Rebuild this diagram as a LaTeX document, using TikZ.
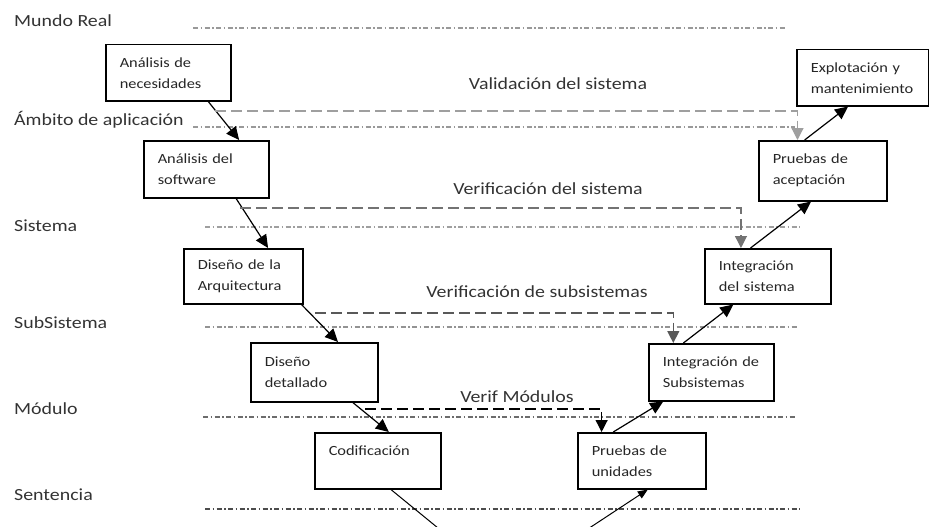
\documentclass[tikz,border=0pt]{standalone}
\usepackage{fontspec}
\setmainfont{Carlito}[FakeStretch=1.17]
\usetikzlibrary{arrows.meta,calc}

\newcommand\levelfont{\fontsize{17}{20}\selectfont}
\newcommand\stagefont{\fontsize{14}{21}\selectfont}

\tikzset{
  stage/.style={draw=black, line width=1.5pt, fill=white, align=left,
    anchor=north west, inner xsep=14pt, inner ysep=0pt,
    font=\stagefont, text=black!85},
  level/.style={font=\levelfont, text=black!80, anchor=base west, inner sep=0pt},
  phase/.style={font=\levelfont, text=black!80, anchor=base, inner sep=0pt},
  levelline/.style={line width=1.2pt,
    dash pattern=on 5pt off 2.5pt on 1.5pt off 2.5pt},
  flow/.style={line width=1.2pt, -{Triangle[length=13pt,width=12pt]}},
  check/.style={line width=1.2pt, dash pattern=on 11pt off 5pt,
    -{Triangle[length=12pt,width=12pt]}},
}

\begin{document}
\begin{tikzpicture}[x=1pt,y=-1pt]
\useasboundingbox (0,0) rectangle (929,527);
\clip (0,0) rectangle (929,527);

% abstraction levels
\node[level] (lmr) at (14,27)  {Mundo Real};
\node[level] (lam) at (14,125) {Ámbito de aplicación};
\node[level] (lsi) at (14,231) {Sistema};
\node[level] (lss) at (14,328) {SubSistema};
\node[level] (lmo) at (14,414) {Módulo};
\node[level] (lse) at (14,500) {Sentencia};

\draw[levelline, draw=gray!80] (193,28)  -- (785,28);
\draw[levelline, draw=gray!80] (193,127) -- (795,127);
\draw[levelline, draw=gray!75] (205,227) -- (800,227);
\draw[levelline, draw=gray!85] (205,327) -- (798,327);
\draw[levelline, draw=gray!85!black] (203,417) -- (795,417);
\draw[levelline, draw=black!70] (205,509) -- (800,509);

% development stages
\node[stage, text width=97pt,  minimum height=56pt] (nec)    at (105,44)  {Análisis de\\necesidades};
\node[stage, text width=97pt,  minimum height=57pt] (soft)   at (143,140) {Análisis del\\software};
\node[stage, text width=91pt,  minimum height=55pt] (arq)    at (183,248) {Diseño de la\\Arquitectura};
\node[stage, text width=99pt,  minimum height=59pt] (det)    at (250,342) {Diseño\\detallado};
\node[stage, text width=98pt,  minimum height=56pt] (cod)    at (314,432) {Codificación\\\mbox{}};
\node[stage, text width=100pt, minimum height=56pt] (pru)    at (577,432) {Pruebas de\\unidades};
\node[stage, text width=97pt,  minimum height=57pt] (intsub) at (648,343) {Integración de\\Subsistemas};
\node[stage, text width=98pt,  minimum height=55pt] (intsis) at (704,248) {Integración\\del sistema};
\node[stage, text width=100pt, minimum height=60pt] (acept)  at (758,140) {Pruebas de\\aceptación};
\node[stage, text width=104pt, minimum height=56pt] (expl)   at (796,49)  {Explotación y\\mantenimiento};

% descending branch
\draw[flow] ($(nec.south west)!0.816!(nec.south east)$) -- ($(soft.north west)!0.76!(soft.north east)$);
\draw[flow] ($(soft.south west)!0.736!(soft.south east)$) -- ($(arq.north west)!0.706!(arq.north east)$);
\draw[flow] ($(arq.south west)!0.983!(arq.south east)$) -- ($(det.north west)!0.685!(det.north east)$);
\draw[flow] ($(det.south west)!0.80!(det.south east)$) -- ($(cod.north west)!0.587!(cod.north east)$);

% bottom turn
\coordinate (vl) at (460,546);
\coordinate (vr) at (562,546);
\draw[line width=1pt, -{Triangle[length=10pt,width=8pt]}]
  ($(cod.south west)!0.603!(cod.south east)$) -- (vl) -- (vr)
  -- ($(pru.south west)!0.547!(pru.south east)$);

% ascending branch
\draw[flow] ($(pru.north west)!0.28!(pru.north east)$) -- ($(intsub.south west)!0.12!(intsub.south east)$);
\draw[flow] ($(intsub.north west)!0.28!(intsub.north east)$) -- ($(intsis.south west)!0.23!(intsis.south east)$);
\draw[flow] ($(intsis.north west)!0.365!(intsis.north east)$) -- ($(acept.south west)!0.41!(acept.south east)$);
\draw[flow] ($(acept.north west)!0.36!(acept.north east)$) -- ($(expl.south west)!0.39!(expl.south east)$);

% validation and verification links
\coordinate (cval) at (215,111);
\coordinate (csis) at (240,208);
\coordinate (csub) at (315,313);
\coordinate (cmod) at (365,409);
\draw[check, draw=gray!75] (cval) -| ($(acept.north west)!0.305!(acept.north east)$);
\draw[check, draw=gray!90!black] (csis) -| ($(intsis.north west)!0.29!(intsis.north east)$);
\draw[check, draw=black!65] (csub) -| ($(intsub.north west)!0.2!(intsub.north east)$);
\draw[check, draw=black] (cmod) -| ($(pru.north west)!0.19!(pru.north east)$);

\node[phase] (tval) at (558,89)  {Validación del sistema};
\node[phase] (tsis) at (548,194) {Verificación del sistema};
\node[phase] (tsub) at (537,297) {Verificación de subsistemas};
\node[phase] (tmod) at (517,402) {Verif Módulos};
\end{tikzpicture}
\end{document}
